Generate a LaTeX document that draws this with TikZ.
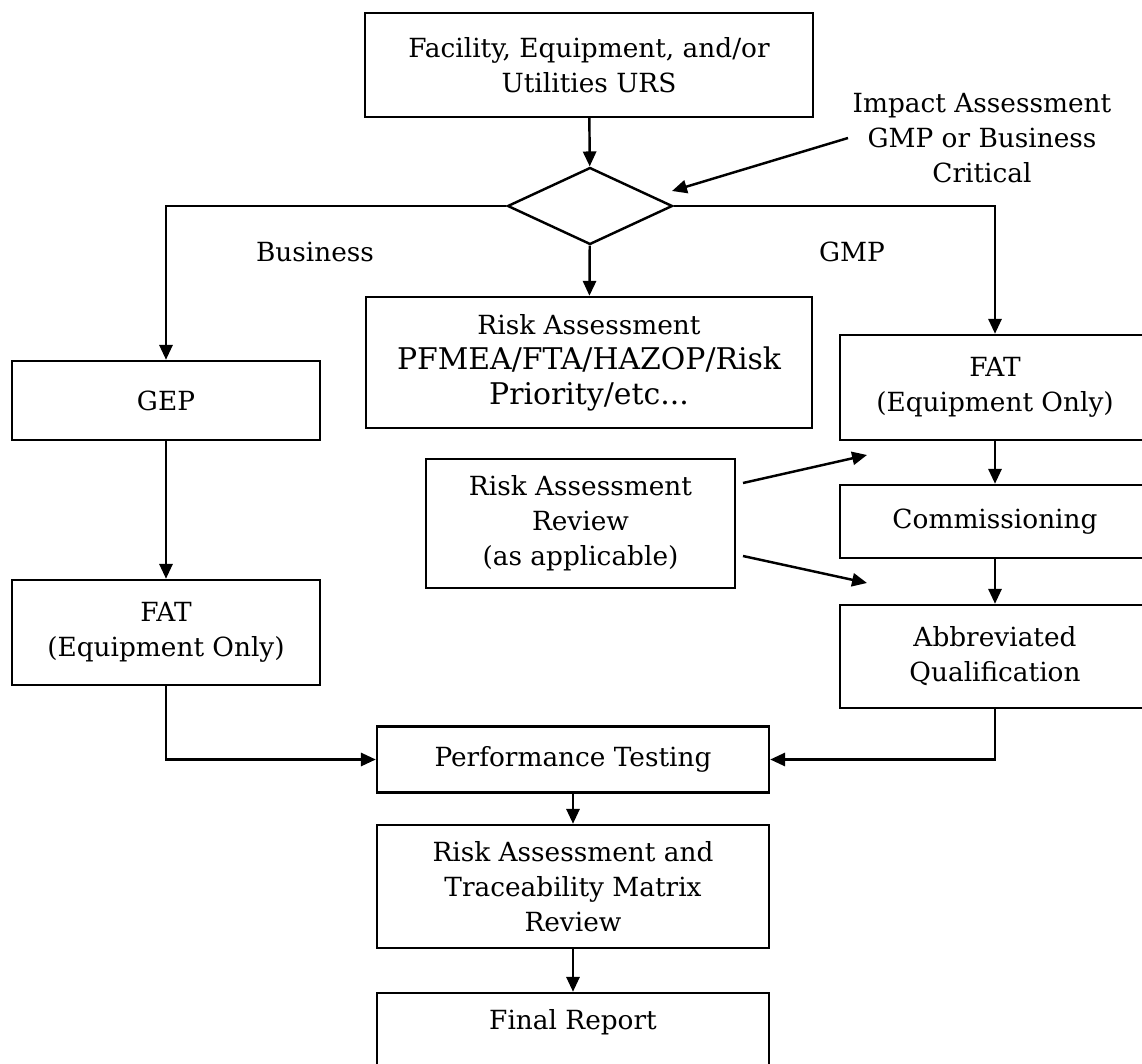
\documentclass[tikz,border=0pt]{standalone}
\usepackage{fontspec}
\setmainfont{DejaVu Serif}
\usetikzlibrary{arrows.meta,positioning,shapes.geometric}

\begin{document}
\begin{tikzpicture}[
      x=0.02cm, y=-0.02cm,
      box/.style={rectangle, draw, line width=1.4pt, minimum width=6.18cm, align=center, inner sep=2pt, font=\fontsize{15}{19.9}\selectfont},
      decide/.style={diamond, draw, line width=1.4pt, minimum width=3.3cm, minimum height=1.54cm, inner sep=0pt},
      lbl/.style={align=center, inner sep=0pt, font=\fontsize{15}{19.9}\selectfont},
      arr/.style={-{Triangle[length=8.5pt, width=7.5pt]}, line width=1.4pt},
    ]
    \useasboundingbox (0,0) rectangle (1142,1064);
    \clip (0,0) rectangle (1142,1064);
    % top of the chart
    \node[box, minimum width=8.96cm, minimum height=2.08cm] (urs) at (589,65) {Facility, Equipment, and/or\\Utilities URS};
    \node[decide] (impact) at (590,206) {};
    \node[lbl] (impacttxt) at (982,138) {Impact Assessment\\GMP or Business\\Critical};
    \node[box, minimum width=8.92cm, minimum height=2.62cm] (risk) at (589,362.5) {Risk Assessment\\{\fontsize{17}{20.5}\selectfont PFMEA/FTA/HAZOP/Risk}\\{\fontsize{17}{20.5}\selectfont Priority/etc...}};
    \node[lbl] at (315,252) {Business};
    \node[lbl] at (852,252) {GMP};
    % business side
    \node[box, minimum width=6.16cm, minimum height=1.58cm] (gep) at (166,400.5) {GEP};
    \node[box, minimum width=6.16cm, minimum height=2.1cm] (fatb) at (166,632.5) {FAT\\(Equipment Only)};
    % GMP side
    \node[box, minimum width=6.2cm, minimum height=2.1cm] (fatg) at (995,387.5) {FAT\\(Equipment Only)};
    \node[box, minimum width=6.2cm, minimum height=1.46cm] (comm) at (995,521.5) {Commissioning};
    \node[box, minimum width=6.2cm, minimum height=2.06cm] (abbr) at (995,656.5) {Abbreviated\\Qualification};
    \node[box, minimum height=2.58cm] (review) at (580.5,523.5) {Risk Assessment\\Review\\(as applicable)};
    % bottom
    \node[box, minimum width=7.84cm, minimum height=1.32cm] (perf) at (573,759.5) {Performance Testing};
    \node[box, minimum width=7.84cm, minimum height=2.46cm] (trace) at (573,886.5) {Risk Assessment and\\Traceability Matrix\\Review};
    \node[box, minimum width=7.84cm, minimum height=1.6cm, text depth=0.55cm] (final) at (573,1033) {Final Report};
    \coordinate (imp0) at (848,138);
    \coordinate (imp1) at (672,191);
    \coordinate (rev0) at (743,483);
    \coordinate (rev1) at (867,455);
    \coordinate (rev2) at (743,556);
    \coordinate (rev3) at (867,583);

    \draw[arr] (urs) -- (impact);
    \draw[arr] (imp0) -- (imp1);
    \draw[arr] (impact) -- (risk);
    \draw[arr] (impact.west) -| (gep);
    \draw[arr] (impact.east) -| (fatg);
    \draw[arr] (gep) -- (fatb);
    \draw[arr] (fatg) -- (comm);
    \draw[arr] (comm) -- (abbr);
    \draw[arr] (rev0) -- (rev1);
    \draw[arr] (rev2) -- (rev3);
    \draw[arr] (fatb.south) |- (perf.west);
    \draw[arr] (abbr.south) |- (perf.east);
    \draw[arr] (perf) -- (trace);
    \draw[arr] (trace) -- (final);
  \end{tikzpicture}
\end{document}
